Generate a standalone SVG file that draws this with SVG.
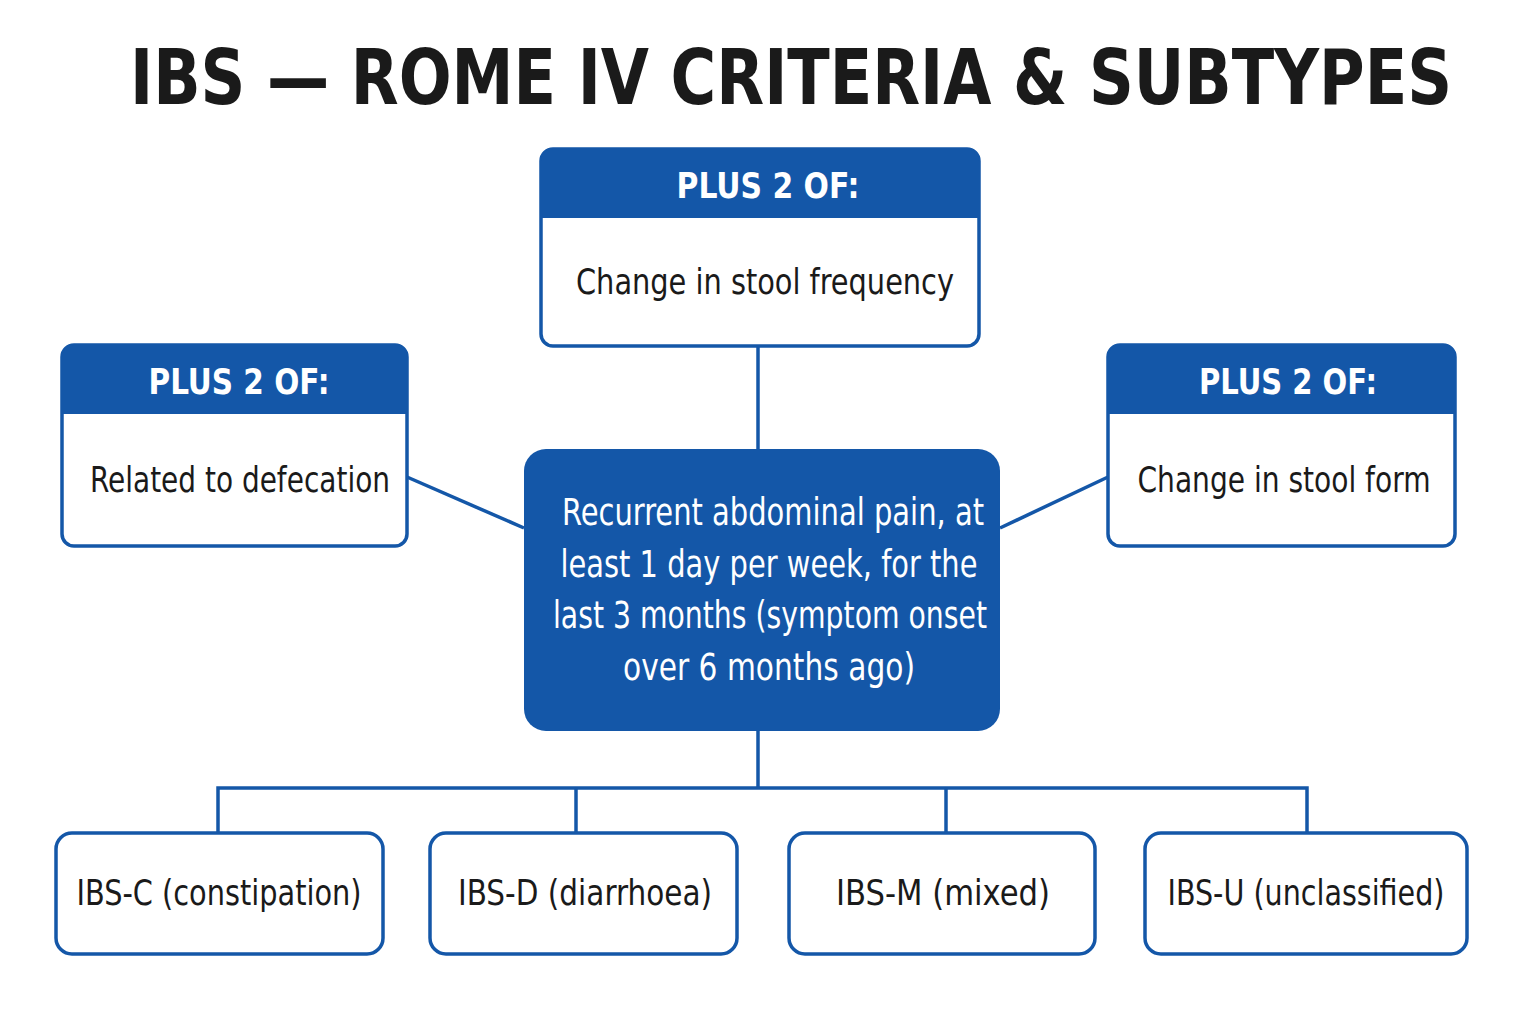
<svg xmlns="http://www.w3.org/2000/svg" width="1536" height="1024" viewBox="0 0 1536 1024">
<style>
.t{font-family:"Liberation Sans Narrow","DejaVu Sans Condensed","Liberation Sans",sans-serif;}
.box{fill:#fff;stroke:#1457a8;stroke-width:3.5}
.hd{fill:#1457a8}
.ht{fill:#fff;font-size:36px;font-weight:bold;text-anchor:middle}
.ct{fill:#fff;font-size:37px;font-weight:500;text-anchor:middle}
.bt{fill:#1a1a1a;font-size:36px;font-weight:500;text-anchor:middle}
.ln{stroke:#1457a8;stroke-width:3.5;fill:none}
</style>
<rect width="1536" height="1024" fill="#fff"/>
<text class="t" x="791" y="104" font-size="76" font-weight="bold" fill="#1a1a1a" text-anchor="middle" textLength="1322" lengthAdjust="spacingAndGlyphs">IBS — ROME IV CRITERIA &amp; SUBTYPES</text>
<g id="connectors">
<line class="ln" x1="758" y1="346" x2="758" y2="449"/>
<line class="ln" x1="407" y1="477" x2="524" y2="528"/>
<line class="ln" x1="1000" y1="528" x2="1108" y2="477"/>
<line class="ln" x1="758" y1="731" x2="758" y2="788"/>
<polyline class="ln" points="218,833 218,788 1307,788 1307,833"/>
<line class="ln" x1="576" y1="788" x2="576" y2="833"/>
<line class="ln" x1="946" y1="788" x2="946" y2="833"/>
</g>
<g id="top">
<rect class="box" x="541" y="149" width="438" height="197" rx="12"/>
<path class="hd" d="M553,149 H967 A12,12 0 0 1 979,161 V218 H541 V161 A12,12 0 0 1 553,149 Z"/>
<text class="t ht" x="768" y="198" textLength="183" lengthAdjust="spacingAndGlyphs">PLUS 2 OF:</text>
<text class="t bt" x="765" y="294" textLength="378" lengthAdjust="spacingAndGlyphs">Change in stool frequency</text>
</g>
<g id="left">
<rect class="box" x="62" y="345" width="345" height="201" rx="12"/>
<path class="hd" d="M74,345 H395 A12,12 0 0 1 407,357 V414 H62 V357 A12,12 0 0 1 74,345 Z"/>
<text class="t ht" x="239" y="394" textLength="181" lengthAdjust="spacingAndGlyphs">PLUS 2 OF:</text>
<text class="t bt" x="240" y="492" textLength="300" lengthAdjust="spacingAndGlyphs">Related to defecation</text>
</g>
<g id="right">
<rect class="box" x="1108" y="345" width="347" height="201" rx="12"/>
<path class="hd" d="M1120,345 H1443 A12,12 0 0 1 1455,357 V414 H1108 V357 A12,12 0 0 1 1120,345 Z"/>
<text class="t ht" x="1288" y="394" textLength="178" lengthAdjust="spacingAndGlyphs">PLUS 2 OF:</text>
<text class="t bt" x="1284" y="492" textLength="293" lengthAdjust="spacingAndGlyphs">Change in stool form</text>
</g>
<g id="center">
<rect x="524" y="449" width="476" height="282" rx="22" fill="#1457a8"/>
<text class="t ct" x="773" y="525" textLength="422" lengthAdjust="spacingAndGlyphs">Recurrent abdominal pain, at</text>
<text class="t ct" x="769" y="577" textLength="417" lengthAdjust="spacingAndGlyphs">least 1 day per week, for the</text>
<text class="t ct" x="770" y="628" textLength="434" lengthAdjust="spacingAndGlyphs">last 3 months (symptom onset</text>
<text class="t ct" x="769" y="680" textLength="292" lengthAdjust="spacingAndGlyphs">over 6 months ago)</text>
</g>
<g id="ibsc"><rect class="box" x="56" y="833" width="327" height="121" rx="16"/><text class="t bt" x="219" y="905" textLength="285" lengthAdjust="spacingAndGlyphs">IBS-C (constipation)</text></g>
<g id="ibsd"><rect class="box" x="430" y="833" width="307" height="121" rx="16"/><text class="t bt" x="585" y="905" textLength="254" lengthAdjust="spacingAndGlyphs">IBS-D (diarrhoea)</text></g>
<g id="ibsm"><rect class="box" x="789" y="833" width="306" height="121" rx="16"/><text class="t bt" x="943" y="905" textLength="214" lengthAdjust="spacingAndGlyphs">IBS-M (mixed)</text></g>
<g id="ibsu"><rect class="box" x="1145" y="833" width="322" height="121" rx="16"/><text class="t bt" x="1306" y="905" textLength="277" lengthAdjust="spacingAndGlyphs">IBS-U (unclassified)</text></g>
</svg>
